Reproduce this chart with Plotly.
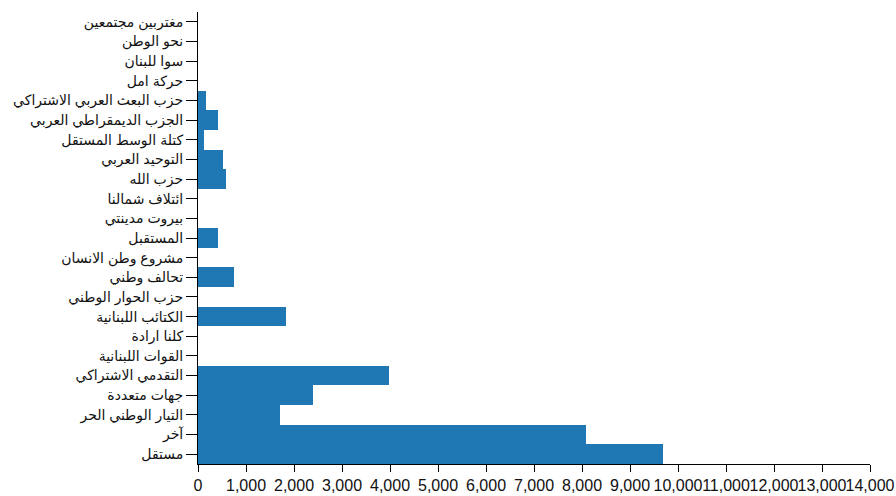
import plotly.graph_objects as go

# Categories listed top to bottom as in the chart
categories = [
    "مغتربين مجتمعين",
    "نحو الوطن",
    "سوا للبنان",
    "حركة امل",
    "حزب البعث العربي الاشتراكي",
    "الجزب الديمقراطي العربي",
    "كتلة الوسط المستقل",
    "التوحيد العربي",
    "حزب الله",
    "ائتلاف شمالنا",
    "بيروت مدينتي",
    "المستقبل",
    "مشروع وطن الانسان",
    "تحالف وطني",
    "حزب الحوار الوطني",
    "الكتائب اللبنانية",
    "كلنا ارادة",
    "القوات اللبنانية",
    "التقدمي الاشتراكي",
    "جهات متعددة",
    "التيار الوطني الحر",
    "آخر",
    "مستقل",
]
values = [0, 0, 0, 0, 170, 413, 120, 517, 587, 0, 0, 413, 0, 760, 0, 1840, 0, 0, 3970, 2400, 1700, 8090, 9690]
x_ticks = list(range(0, 14001, 1000))

fig = go.Figure(
    go.Bar(
        x=values,
        y=categories,
        orientation="h",
        marker=dict(color="#1f77b4", line=dict(width=0)),
    )
)

fig.update_layout(
    width=896,
    height=496,
    margin=dict(l=198, r=26, t=12, b=32, autoexpand=False),
    paper_bgcolor="white",
    plot_bgcolor="white",
    bargap=0,
    showlegend=False,
    font=dict(family="Liberation Sans, Arial, DejaVu Sans", color="#111"),
)
fig.update_xaxes(
    range=[0, 14000],
    tickvals=x_ticks,
    tickformat=",",
    tickangle=0,
    automargin=False,
    showgrid=False,
    zeroline=False,
    showline=True,
    linecolor="black",
    linewidth=1,
    ticks="outside",
    ticklen=7,
    tickcolor="black",
    tickfont=dict(size=16, color="#111"),
)
fig.update_yaxes(
    autorange="reversed",
    automargin=False,
    showgrid=False,
    zeroline=False,
    showline=True,
    linecolor="black",
    linewidth=1,
    ticks="outside",
    ticklen=11,
    tickcolor="black",
    tickfont=dict(size=14, color="#111"),
)

fig.write_html(
    "out.html",
    config={"displayModeBar": False},
    post_script="document.body.style.margin='0';document.body.style.overflow='hidden';",
)
